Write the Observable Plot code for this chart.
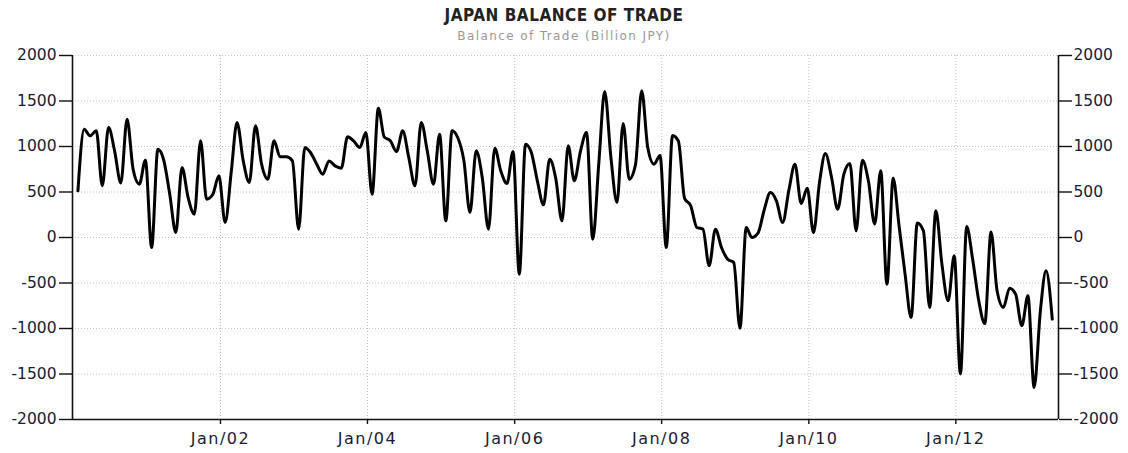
<!DOCTYPE html>
<html><head><meta charset="utf-8">
<script src="https://cdn.jsdelivr.net/npm/d3@7"></script>
<script src="https://cdn.jsdelivr.net/npm/@observablehq/plot@0.6"></script>
<style>
body{margin:0;background:#fff;}
#title{height:27px;text-align:center;font-family:"DejaVu Sans Condensed","DejaVu Sans",sans-serif;font-weight:bold;font-size:17px;line-height:31px;color:#222;letter-spacing:0.5px;white-space:nowrap}
#subtitle{height:16px;padding-top:3px;text-align:center;font-family:"DejaVu Sans",sans-serif;font-size:12px;line-height:13px;color:#999;letter-spacing:1.4px;white-space:nowrap}
#chart svg{display:block}
g[aria-label="x-axis tick label"]{letter-spacing:1.5px}
</style></head><body>
<div id="title">JAPAN BALANCE OF TRADE</div>
<div id="subtitle">Balance of Trade (Billion JPY)</div>
<div id="chart"></div>
<script>
// Monthly balance of trade, billion JPY (Jan..Dec)
const v2000 = [513, 1190, 1117, 1172, 568, 1209, 952, 600, 1300, 750, 586, 850];
const v2001 = [-110, 970, 860, 476, 55, 769, 440, 256, 1062, 421, 476, 678];
const v2002 = [165, 733, 1264, 842, 604, 1227, 806, 641, 1062, 886, 886, 842];
const v2003 = [92, 989, 934, 806, 696, 842, 787, 762, 1106, 1062, 989, 1154];
const v2004 = [476, 1421, 1106, 1062, 945, 1172, 880, 568, 1264, 952, 586, 1135];
const v2005 = [183, 1172, 1099, 842, 275, 952, 660, 92, 982, 733, 593, 945];
const v2006 = [-403, 1026, 940, 620, 359, 860, 650, 183, 1007, 623, 950, 1154];
const v2007 = [-18, 850, 1604, 880, 385, 1253, 641, 800, 1612, 989, 806, 900];
const v2008 = [-110, 1120, 1060, 430, 350, 110, 92, -311, 92, -110, -238, -275];
const v2009 = [-996, 110, 0, 50, 300, 494, 403, 165, 520, 806, 374, 542];
const v2010 = [55, 623, 923, 659, 311, 696, 813, 73, 850, 620, 147, 733];
const v2011 = [-513, 652, 150, -403, -879, 160, 73, -769, 293, -293, -696, -201];
const v2012 = [-1500, 120, -230, -696, -945, 60, -586, -769, -557, -623, -970, -641];
const v2013 = [-1648, -806, -366, -897];

const years = [2000,2001,2002,2003,2004,2005,2006,2007,2008,2009,2010,2011,2012,2013];
const yearValues = [v2000,v2001,v2002,v2003,v2004,v2005,v2006,v2007,v2008,v2009,v2010,v2011,v2012,v2013];

const xTickYears = [2002, 2004, 2006, 2008, 2010, 2012];
const yTicks = [-2000, -1500, -1000, -500, 0, 500, 1000, 1500, 2000];

const data = [];
years.forEach((yr, k) => {
  yearValues[k].forEach((v, m) => data.push({date: new Date(Date.UTC(yr, m, 24)), value: v}));
});

const x0 = new Date(Date.UTC(1999, 11, 28));
const x1 = new Date(Date.UTC(2013, 4, 25));
const xTicks = xTickYears.map(y => new Date(Date.UTC(y, 0, 1)));
const axisColor = "#111";
const gridStyle = {stroke: "#c4c4c4", strokeOpacity: 1, strokeDasharray: "1,2"};

const chart = Plot.plot({
  width: 1128,
  height: 407,
  marginLeft: 72,
  marginRight: 70,
  marginTop: 9,
  marginBottom: 34,
  style: {fontFamily: "DejaVu Sans, sans-serif", fontSize: "15.5px", color: "#1a1a33", background: "#fff", overflow: "visible"},
  x: {type: "utc", domain: [x0, x1], label: null},
  y: {domain: [-2000, 2000], label: null},
  marks: [
    Plot.gridY(yTicks.filter(d => d > -2000), gridStyle),
    Plot.gridX(xTicks, gridStyle),
    Plot.ruleX([x0], {stroke: axisColor, strokeWidth: 1.6}),
    Plot.ruleX([x1], {stroke: axisColor, strokeWidth: 1.6}),
    Plot.ruleY([-2000], {stroke: axisColor, strokeWidth: 1.6}),
    Plot.axisY({ticks: yTicks, anchor: "left", tickSize: 13, tickPadding: 3, tickFormat: d => String(d), stroke: axisColor, strokeWidth: 1.4}),
    Plot.axisY({ticks: yTicks, anchor: "right", tickSize: 13, tickPadding: 2, tickFormat: d => String(d), stroke: axisColor, strokeWidth: 1.4}),
    Plot.axisX({ticks: xTicks, anchor: "bottom", tickSize: 5, tickPadding: 8, fontSize: 16,
      tickFormat: d => "Jan/" + String(d.getUTCFullYear() % 100).padStart(2, "0"), stroke: axisColor, strokeWidth: 1.4}),
    Plot.lineY(data, {x: "date", y: "value", curve: "monotone-x", stroke: "#000", strokeWidth: 3})
  ]
});
document.getElementById("chart").appendChild(chart);
</script>
</body></html>
